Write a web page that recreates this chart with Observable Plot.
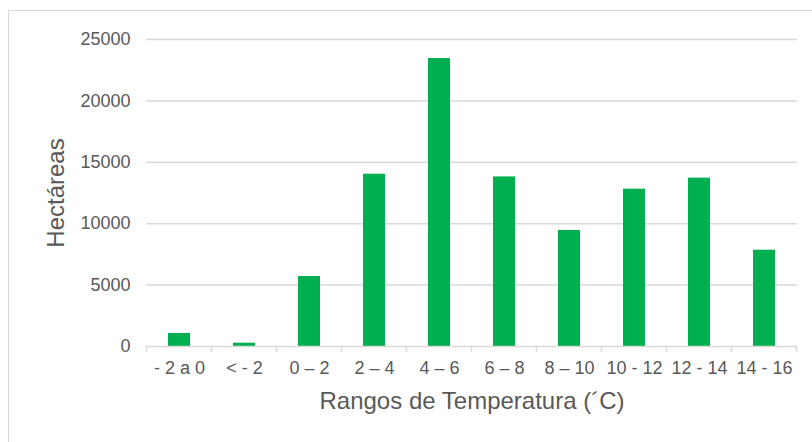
<!DOCTYPE html>
<html>
<head>
<meta charset="utf-8">
<script src="https://cdn.jsdelivr.net/npm/d3@7"></script>
<script src="https://cdn.jsdelivr.net/npm/@observablehq/plot@0.6"></script>
<style>
  html, body { margin: 0; padding: 0; background: #ffffff; }
  #wrap { position: relative; width: 812px; height: 442px; overflow: hidden; }
  #frame { position: absolute; left: 8px; top: 10px; width: 820px; height: 450px;
           border-top: 1.5px solid #d9d9d9; border-left: 1.5px solid #d9d9d9; box-sizing: border-box; }
  #chart { position: absolute; left: 0; top: 0; }
</style>
</head>
<body>
<div id="wrap"><div id="frame"></div><div id="chart"></div></div>
<script>
const categories = ["- 2 a 0", "< - 2", "0 – 2", "2 – 4", "4 – 6", "6 – 8", "8 – 10", "10 - 12", "12 - 14", "14 - 16"];
const hectareas = [1060, 270, 5700, 14030, 23450, 13810, 9450, 12810, 13710, 7840];
const yTicks = [0, 5000, 10000, 15000, 20000, 25000];
const xTitle = "Rangos de Temperatura (´C)";
const yTitle = "Hectáreas";

const data = categories.map((c, i) => ({cat: c, value: hectareas[i]}));
const gray = "#595959";
const lineGray = "#d9d9d9";
const pad = 0.657;

const edgeTicks = (index, scales, values, dimensions) => {
  const x = scales.x;
  const step = x.step ? x.step() : (dimensions.width - dimensions.marginLeft - dimensions.marginRight) / categories.length;
  const bw = x.bandwidth ? x.bandwidth() : step * (1 - pad);
  const y0 = scales.y(0);
  const edges = categories.map(c => x(c) - (step - bw) / 2);
  edges.push(x(categories[categories.length - 1]) + bw + (step - bw) / 2);
  const g = d3.create("svg:g");
  g.selectAll("line").data(edges).join("line")
    .attr("x1", d => d).attr("x2", d => d)
    .attr("y1", y0).attr("y2", y0 + 6)
    .attr("stroke", lineGray).attr("stroke-width", 1.5);
  return g.node();
};

const chart = Plot.plot({
  width: 812,
  height: 442,
  marginLeft: 146,
  marginRight: 15,
  marginTop: 39,
  marginBottom: 96,
  style: {fontFamily: "'Liberation Sans', Arial, sans-serif", fontSize: "18px", color: gray, background: "transparent", overflow: "visible"},
  x: {domain: categories, paddingInner: pad, paddingOuter: pad / 2, label: null},
  y: {domain: [0, 25000], ticks: yTicks, label: null},
  marks: [
    Plot.gridY(yTicks.filter(d => d > 0), {stroke: lineGray, strokeOpacity: 1, strokeWidth: 1.5}),
    Plot.barY(data, {x: "cat", y: "value", fill: "#00b050"}),
    Plot.ruleY([0], {stroke: lineGray, strokeWidth: 1.5}),
    edgeTicks,
    Plot.axisY(yTicks, {tickSize: 0, tickPadding: 16, tickFormat: d3.format("d"), fontSize: 18, fill: gray, label: null}),
    Plot.axisX({tickSize: 0, tickPadding: 15, fontSize: 18, fill: gray, label: null}),
    Plot.text([yTitle], {frameAnchor: "left", textAnchor: "middle", lineAnchor: "middle", rotate: -90, dx: -90, fontSize: 24, fill: gray}),
    Plot.text([xTitle], {frameAnchor: "bottom", textAnchor: "middle", lineAnchor: "middle", dy: 55, fontSize: 24, fill: gray})
  ]
});
document.getElementById("chart").appendChild(chart);
</script>
</body>
</html>
